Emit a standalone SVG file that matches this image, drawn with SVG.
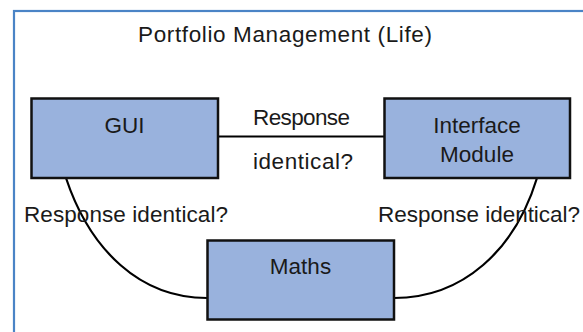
<svg xmlns="http://www.w3.org/2000/svg" width="583" height="332" viewBox="0 0 583 332">
  <style>
    .box { fill: #99b2dd; stroke: #111; stroke-width: 2.5; }
    .lbl { font-family: "Liberation Sans", Arial, sans-serif; font-size: 22.5px; fill: #1a1a1a; }
    .mid { text-anchor: middle; }
    .conn { fill: none; stroke: #000; stroke-width: 2.2; }
  </style>
  <rect x="0" y="0" width="583" height="332" fill="#ffffff"/>
  <g id="frame">
    <rect x="14" y="11" width="620" height="400" fill="none" stroke="#4a84c6" stroke-width="2.2"/>
    <text class="lbl" x="138" y="42" textLength="294">Portfolio Management (Life)</text>
  </g>
  <g id="connectors">
    <line class="conn" x1="218" y1="136.5" x2="384" y2="136.5"/>
    <path class="conn" d="M66,178 C90,250 140,298 207,298"/>
    <path class="conn" d="M537,178 C515,250 463,298 394,298"/>
    <text class="lbl" x="253" y="125" textLength="97">Response</text>
    <text class="lbl" x="253" y="169" textLength="100">identical?</text>
    <text class="lbl" x="24" y="222" textLength="204">Response identical?</text>
    <text class="lbl" x="378" y="222" textLength="202">Response identical?</text>
  </g>
  <g id="gui">
    <rect class="box" x="31.5" y="98.5" width="186.5" height="79.5"/>
    <text class="lbl mid" x="124.5" y="133">GUI</text>
  </g>
  <g id="interface">
    <rect class="box" x="384.5" y="98.5" width="185.5" height="79.5"/>
    <text class="lbl mid" x="477" y="133">Interface</text>
    <text class="lbl mid" x="477" y="162">Module</text>
  </g>
  <g id="maths">
    <rect class="box" x="207.5" y="240.5" width="186.5" height="79"/>
    <text class="lbl mid" x="300.5" y="274">Maths</text>
  </g>
</svg>
